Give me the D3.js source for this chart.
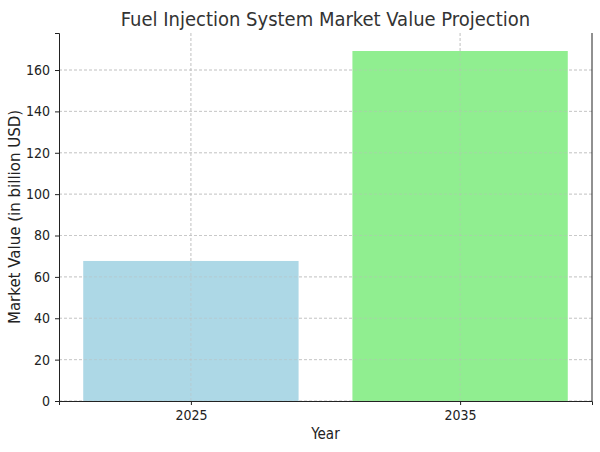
<!DOCTYPE html>
<html>
<head>
<meta charset="utf-8">
<script src="https://cdn.jsdelivr.net/npm/d3@7"></script>
<style>
  body { margin: 0; background: #fff; }
  .axis text { font-family: "DejaVu Sans Condensed", "DejaVu Sans", sans-serif; font-size: 14px; fill: #222; }
  .axis path, .axis line { stroke: #222; }
</style>
</head>
<body>
<div id="chart"></div>
<script>
// chart data
const years = ["2025", "2035"];
const values = [67.7, 169.2];
const colors = ["#add8e6", "#90ee90"];
const yTicks = [0, 20, 40, 60, 80, 100, 120, 140, 160];

const width = 600, height = 452;
const margin = {top: 33, right: 8, bottom: 51, left: 59};
const innerW = width - margin.left - margin.right;
const innerH = height - margin.top - margin.bottom;

let svg = d3.select("#chart").append("svg")
    .attr("width", width)
    .attr("height", height);

let g = svg.append("g")
    .attr("transform", `translate(${margin.left}, ${margin.top})`);

// categorical x as positions 0,1 like matplotlib
let x = d3.scaleLinear().domain([-0.49, 1.49]).range([0, innerW]);
let y = d3.scaleLinear().domain([0, 177.9]).range([innerH, 0]);
const barW = x(0.8) - x(0);

// grid
g.append("g").selectAll("line").data(yTicks).enter().append("line")
    .attr("x1", 0).attr("x2", innerW)
    .attr("y1", d => y(d)).attr("y2", d => y(d))
    .attr("stroke", "#ccc").attr("stroke-dasharray", "3,2").attr("stroke-width", 0.8);
g.append("g").selectAll("line").data(years).enter().append("line")
    .attr("x1", (d, i) => x(i)).attr("x2", (d, i) => x(i))
    .attr("y1", 0).attr("y2", innerH)
    .attr("stroke", "#ccc").attr("stroke-dasharray", "3,2").attr("stroke-width", 0.8);

// bars
g.selectAll("rect.bar").data(values).enter().append("rect")
    .attr("class", "bar")
    .attr("x", (d, i) => x(i) - barW / 2)
    .attr("y", d => y(d))
    .attr("width", barW)
    .attr("height", d => innerH - y(d))
    .attr("fill", (d, i) => colors[i])
    .attr("opacity", 0.999);

// grid lines over bars (matplotlib draws them on top here)
g.append("g").selectAll("line").data(yTicks).enter().append("line")
    .attr("x1", 0).attr("x2", innerW)
    .attr("y1", d => y(d)).attr("y2", d => y(d))
    .attr("stroke", "#bbb").attr("stroke-opacity", 0.6).attr("stroke-dasharray", "3,2").attr("stroke-width", 0.8);
g.append("g").selectAll("line").data(years).enter().append("line")
    .attr("x1", (d, i) => x(i)).attr("x2", (d, i) => x(i))
    .attr("y1", 0).attr("y2", innerH)
    .attr("stroke", "#bbb").attr("stroke-opacity", 0.6).attr("stroke-dasharray", "3,2").attr("stroke-width", 0.8);

// axes
g.append("g").attr("class", "axis")
    .attr("transform", `translate(0, ${innerH})`)
    .call(d3.axisBottom(x).tickValues([0, 1]).tickFormat((d) => years[d]).tickSizeOuter(0).tickSize(4).tickPadding(5));
g.append("g").attr("class", "axis")
    .call(d3.axisLeft(y).tickValues(yTicks).tickSizeOuter(0).tickSize(4).tickPadding(5));

// spines top/right
g.append("line").attr("x1", innerW).attr("x2", innerW).attr("y1", 0).attr("y2", innerH).attr("stroke", "#222");

// labels
svg.append("text")
    .attr("x", margin.left + innerW / 2).attr("y", 26)
    .attr("text-anchor", "middle")
    .style("font-family", "'DejaVu Sans Condensed', 'DejaVu Sans', sans-serif")
    .style("font-size", "20px").attr("fill", "#333")
    .text("Fuel Injection System Market Value Projection");

svg.append("text")
    .attr("x", margin.left + innerW / 2).attr("y", 439)
    .attr("text-anchor", "middle")
    .style("font-family", "'DejaVu Sans Condensed', 'DejaVu Sans', sans-serif")
    .style("font-size", "15px").attr("fill", "#222")
    .text("Year");

svg.append("text")
    .attr("transform", `translate(20, ${margin.top + innerH / 2}) rotate(-90)`)
    .attr("text-anchor", "middle")
    .style("font-family", "'DejaVu Sans', sans-serif")
    .style("font-size", "15px").attr("fill", "#222")
    .text("Market Value (in billion USD)");
</script>
</body>
</html>
